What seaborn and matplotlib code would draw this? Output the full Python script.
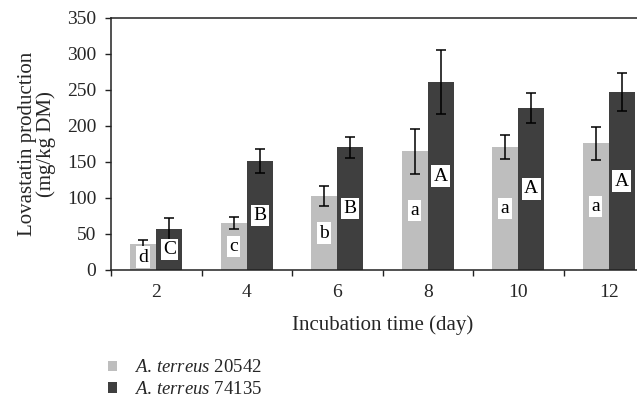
import matplotlib
matplotlib.use("Agg")
import matplotlib.pyplot as plt
import seaborn as sns
import pandas as pd
import numpy as np

days = ["2", "4", "6", "8", "10", "12"]
strain_a = [35.6, 65, 102.5, 165, 170.5, 176]
strain_a_sd = [5.5, 8.5, 13.5, 31, 17, 23]
strain_b = [57, 151, 170.5, 261, 225, 247]
strain_b_sd = [15.5, 16.5, 14.5, 44, 20.5, 26]
letters_a = ["d", "c", "b", "a", "a", "a"]
letters_b = ["C", "B", "B", "A", "A", "A"]
series_names = [r"$\mathit{A.\,terreus}$ 20542", r"$\mathit{A.\,terreus}$ 74135"]
colors = ["#bebebe", "#3f3f3f"]

sns.set_theme(style="white")
plt.rcParams["font.family"] = ["Liberation Serif", "DejaVu Serif"]
plt.rcParams["mathtext.fontset"] = "custom"
plt.rcParams["mathtext.rm"] = "Liberation Serif"
plt.rcParams["mathtext.it"] = "Liberation Serif:italic"

df = pd.DataFrame({
    "day": days * 2,
    "value": strain_a + strain_b,
    "sd": strain_a_sd + strain_b_sd,
    "letter": letters_a + letters_b,
    "strain": [series_names[0]] * len(days) + [series_names[1]] * len(days),
})

fig = plt.figure(figsize=(6.37, 3.99), dpi=100)
ax = fig.add_axes([111 / 637, 1 - 270 / 399, 543 / 637, 252 / 399])

sns.barplot(data=df, x="day", y="value", hue="strain", order=days,
            hue_order=series_names, palette=colors, width=0.58, gap=0,
            errorbar=None, saturation=1, linewidth=0, ax=ax)

# error bars and letters, placed on the bars the library drew
bars = [p for p in ax.patches if p.get_height() > 0]
bars = sorted(bars, key=lambda p: p.get_x())
vals_sorted = []
for i in range(len(days)):
    vals_sorted.append((strain_a[i], strain_a_sd[i], letters_a[i]))
    vals_sorted.append((strain_b[i], strain_b_sd[i], letters_b[i]))
for p, (v, sd, let) in zip(bars, vals_sorted):
    cx = p.get_x() + p.get_width() / 2
    ax.errorbar(cx, v, yerr=sd, fmt="none", ecolor="black", elinewidth=1.1,
                capsize=3.3, capthick=1.1, zorder=3)
    ax.text(cx, max(v / 2, 16), let, ha="center", va="center", fontsize=14, color="black",
            zorder=4,
            bbox=dict(boxstyle="square,pad=0.12", facecolor="white", edgecolor="none"))

ax.set_ylim(0, 350)
ax.set_yticks(np.arange(0, 351, 50))
ax.set_xlim(-0.467, 5.5)
ax.set_xticks(np.arange(-0.5, 5.6, 1.0))
ax.set_xticklabels([])
ax.set_xticks(np.arange(len(days)), minor=True)
ax.set_xticklabels(days, minor=True)
ax.tick_params(axis="x", which="major", direction="out", length=4.5, width=1,
               color="#222222", bottom=True)
ax.tick_params(axis="x", which="minor", length=0, pad=10, labelsize=14)
ax.tick_params(axis="y", direction="out", length=4.5, width=1, color="#222222",
               left=True, pad=6, labelsize=14)

for s in ["left", "bottom", "top"]:
    ax.spines[s].set_visible(True)
    ax.spines[s].set_color("#222222")
    ax.spines[s].set_linewidth(1.1)
ax.spines["right"].set_visible(False)

ax.set_xlabel("Incubation time (day)", fontsize=15, labelpad=10)
ax.set_ylabel("Lovastatin production\n(mg/kg DM)", fontsize=15, labelpad=8,
              linespacing=0.95)

ax.legend_.remove()
handles = [plt.Rectangle((0, 0), 1, 1, facecolor=c, edgecolor="none") for c in colors]
fig.legend(handles, series_names, loc="upper left", bbox_to_anchor=(100 / 637, 1 - 352 / 399),
           frameon=False, fontsize=13.5, handlelength=0.5, handleheight=0.5,
           handletextpad=0.9, labelspacing=0.25, borderaxespad=0)

fig.savefig("out.png", dpi=100)
